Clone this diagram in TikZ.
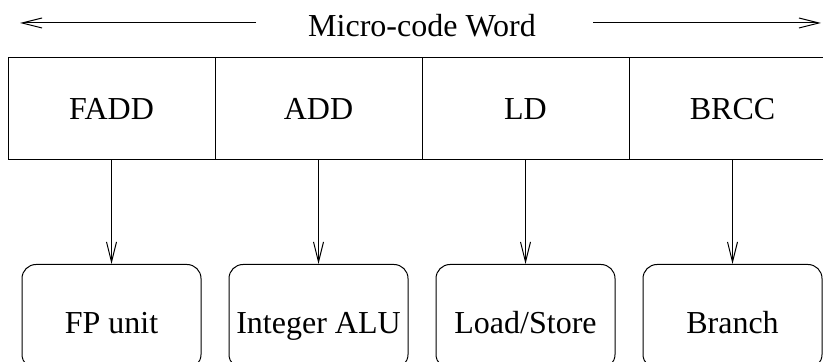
\documentclass[tikz,border=0pt]{standalone}
\usepackage{fontspec}
\setmainfont{Liberation Serif}
\usetikzlibrary{positioning,arrows.meta}

\begin{document}
\begin{tikzpicture}[x=0.5pt, y=-0.5pt, node distance=52pt, line width=0.5pt,
    font=\fontsize{16}{19}\selectfont,
    mc field/.style={rectangle, draw, minimum width=103.5pt, minimum height=51pt, inner sep=0pt, outer sep=0pt},
    mc unit/.style={rectangle, draw, rounded corners=7pt, minimum width=89.5pt, minimum height=52pt, inner sep=0pt, text height=21pt, text depth=4pt},
    mc arrow/.style={-{Straight Barb[length=10pt, width=5pt]}}]
    \useasboundingbox (0,0) rectangle (823,362);

    \node (title) at (422,26) {Micro-code Word};
    \coordinate (wordL) at (20,23);
    \coordinate (wordR) at (821,23);
    \coordinate (titleL) at (256,23);
    \coordinate (titleR) at (593,23);
    \draw [mc arrow] (titleL) -- (wordL);
    \draw [mc arrow] (titleR) -- (wordR);

    \node [mc field] (fadd) at (111.5,109) {FADD};
    \node [mc field, right=0pt of fadd] (add) {ADD};
    \node [mc field, right=0pt of add] (ld) {LD};
    \node [mc field, right=0pt of ld] (brcc) {BRCC};

    \node [mc unit, below=52pt of fadd] (fp) {FP unit};
    \node [mc unit, below=52pt of add] (alu) {Integer ALU};
    \node [mc unit, below=52pt of ld] (ldst) {Load/Store};
    \node [mc unit, below=52pt of brcc] (branch) {Branch};

    \draw [mc arrow] (fadd) -- (fp);
    \draw [mc arrow] (add) -- (alu);
    \draw [mc arrow] (ld) -- (ldst);
    \draw [mc arrow] (brcc) -- (branch);

\end{tikzpicture}
\end{document}
